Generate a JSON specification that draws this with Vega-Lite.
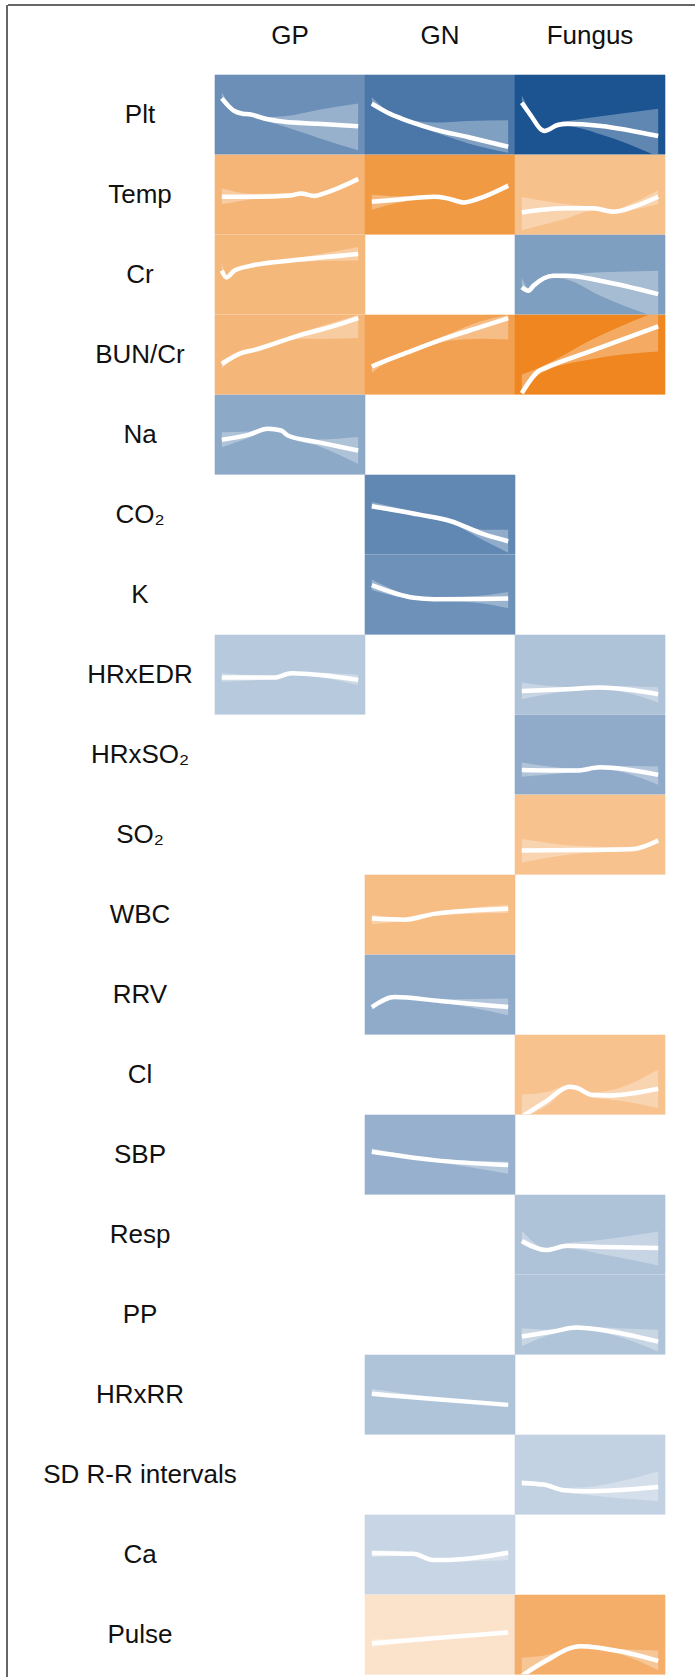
{
  "$schema": "https://vega.github.io/schema/vega-lite/v6.json",
  "background": "white",
  "padding": {"left": 6, "top": 4, "right": 0, "bottom": 0},
  "bounds": "flush",
  "spacing": 0,
  "hconcat": [
    {
      "width": 1,
      "height": 1680,
      "data": {"values": [{"edge": "left"}]},
      "mark": {"type": "rule", "color": "#333333", "strokeWidth": 1.5},
      "encoding": {"x": {"datum": 0, "type": "quantitative", "scale": {"domain": [0, 1]}, "axis": null}}
    },
    {
      "bounds": "flush",
      "spacing": 0,
      "vconcat": [
        {
          "width": 700,
          "height": 70,
          "data": {"values": [{"edge": "top"}]},
          "mark": {"type": "rule", "color": "#333333", "strokeWidth": 1.5},
          "encoding": {"y": {"datum": 0, "type": "quantitative", "scale": {"domain": [0, 1], "reverse": true}, "axis": null}}
        },
        {
          "bounds": "flush",
          "spacing": 0,
          "hconcat": [
            {
              "width": 57,
              "height": 10,
              "data": {"values": []},
              "mark": "point",
              "encoding": {}
            },
            {
              "bounds": "flush",
              "data": {
                "values": [
                  {"variable": "Plt", "group": "label"},
                  {"variable": "Temp", "group": "label"},
                  {"variable": "Cr", "group": "label"},
                  {"variable": "BUN/Cr", "group": "label"},
                  {"variable": "Na", "group": "label"},
                  {"variable": "CO₂", "group": "label"},
                  {"variable": "K", "group": "label"},
                  {"variable": "HRxEDR", "group": "label"},
                  {"variable": "HRxSO₂", "group": "label"},
                  {"variable": "SO₂", "group": "label"},
                  {"variable": "WBC", "group": "label"},
                  {"variable": "RRV", "group": "label"},
                  {"variable": "Cl", "group": "label"},
                  {"variable": "SBP", "group": "label"},
                  {"variable": "Resp", "group": "label"},
                  {"variable": "PP", "group": "label"},
                  {"variable": "HRxRR", "group": "label"},
                  {"variable": "SD R-R intervals", "group": "label"},
                  {"variable": "Ca", "group": "label"},
                  {"variable": "Pulse", "group": "label"},

                  {"variable": "Plt", "group": "GP", "effect": -0.64},
                  {"variable": "Plt", "group": "GN", "effect": -0.78},
                  {"variable": "Plt", "group": "Fungus", "effect": -0.98},
                  {"variable": "Temp", "group": "GP", "effect": 0.59},
                  {"variable": "Temp", "group": "GN", "effect": 0.81},
                  {"variable": "Temp", "group": "Fungus", "effect": 0.5},
                  {"variable": "Cr", "group": "GP", "effect": 0.57},
                  {"variable": "Cr", "group": "GN"},
                  {"variable": "Cr", "group": "Fungus", "effect": -0.55},
                  {"variable": "BUN/Cr", "group": "GP", "effect": 0.58},
                  {"variable": "BUN/Cr", "group": "GN", "effect": 0.75},
                  {"variable": "BUN/Cr", "group": "Fungus", "effect": 0.97},
                  {"variable": "Na", "group": "GP", "effect": -0.49},
                  {"variable": "Na", "group": "GN"},
                  {"variable": "Na", "group": "Fungus"},
                  {"variable": "CO₂", "group": "GP"},
                  {"variable": "CO₂", "group": "GN", "effect": -0.68},
                  {"variable": "CO₂", "group": "Fungus"},
                  {"variable": "K", "group": "GP"},
                  {"variable": "K", "group": "GN", "effect": -0.63},
                  {"variable": "K", "group": "Fungus"},
                  {"variable": "HRxEDR", "group": "GP", "effect": -0.31},
                  {"variable": "HRxEDR", "group": "GN"},
                  {"variable": "HRxEDR", "group": "Fungus", "effect": -0.35},
                  {"variable": "HRxSO₂", "group": "GP"},
                  {"variable": "HRxSO₂", "group": "GN"},
                  {"variable": "HRxSO₂", "group": "Fungus", "effect": -0.48},
                  {"variable": "SO₂", "group": "GP"},
                  {"variable": "SO₂", "group": "GN"},
                  {"variable": "SO₂", "group": "Fungus", "effect": 0.49},
                  {"variable": "WBC", "group": "GP"},
                  {"variable": "WBC", "group": "GN", "effect": 0.53},
                  {"variable": "WBC", "group": "Fungus"},
                  {"variable": "RRV", "group": "GP"},
                  {"variable": "RRV", "group": "GN", "effect": -0.48},
                  {"variable": "RRV", "group": "Fungus"},
                  {"variable": "Cl", "group": "GP"},
                  {"variable": "Cl", "group": "GN"},
                  {"variable": "Cl", "group": "Fungus", "effect": 0.49},
                  {"variable": "SBP", "group": "GP"},
                  {"variable": "SBP", "group": "GN", "effect": -0.45},
                  {"variable": "SBP", "group": "Fungus"},
                  {"variable": "Resp", "group": "GP"},
                  {"variable": "Resp", "group": "GN"},
                  {"variable": "Resp", "group": "Fungus", "effect": -0.35},
                  {"variable": "PP", "group": "GP"},
                  {"variable": "PP", "group": "GN"},
                  {"variable": "PP", "group": "Fungus", "effect": -0.34},
                  {"variable": "HRxRR", "group": "GP"},
                  {"variable": "HRxRR", "group": "GN", "effect": -0.34},
                  {"variable": "HRxRR", "group": "Fungus"},
                  {"variable": "SD R-R intervals", "group": "GP"},
                  {"variable": "SD R-R intervals", "group": "GN"},
                  {"variable": "SD R-R intervals", "group": "Fungus", "effect": -0.26},
                  {"variable": "Ca", "group": "GP"},
                  {"variable": "Ca", "group": "GN", "effect": -0.24},
                  {"variable": "Ca", "group": "Fungus"},
                  {"variable": "Pulse", "group": "GP"},
                  {"variable": "Pulse", "group": "GN", "effect": 0.23},
                  {"variable": "Pulse", "group": "Fungus", "effect": 0.65},

                  {"variable": "Plt", "group": "GP", "t": 0, "fit": 0.706, "lower": 0.66, "upper": 0.78},
                  {"variable": "Plt", "group": "GP", "t": 0.092, "fit": 0.546, "lower": 0.52, "upper": 0.57},
                  {"variable": "Plt", "group": "GP", "t": 0.153, "fit": 0.512, "lower": 0.49, "upper": 0.535},
                  {"variable": "Plt", "group": "GP", "t": 0.202, "fit": 0.504, "lower": 0.48, "upper": 0.525},
                  {"variable": "Plt", "group": "GP", "t": 0.337, "fit": 0.441, "lower": 0.41, "upper": 0.47},
                  {"variable": "Plt", "group": "GP", "t": 0.458, "fit": 0.411, "lower": 0.35, "upper": 0.48},
                  {"variable": "Plt", "group": "GP", "t": 0.703, "fit": 0.386, "lower": 0.21, "upper": 0.56},
                  {"variable": "Plt", "group": "GP", "t": 1, "fit": 0.353, "lower": 0.05, "upper": 0.64},

                  {"variable": "Plt", "group": "GN", "t": 0, "fit": 0.64, "lower": 0.6, "upper": 0.72},
                  {"variable": "Plt", "group": "GN", "t": 0.117, "fit": 0.525, "lower": 0.5, "upper": 0.55},
                  {"variable": "Plt", "group": "GN", "t": 0.214, "fit": 0.454, "lower": 0.43, "upper": 0.475},
                  {"variable": "Plt", "group": "GN", "t": 0.3, "fit": 0.4, "lower": 0.375, "upper": 0.425},
                  {"variable": "Plt", "group": "GN", "t": 0.458, "fit": 0.315, "lower": 0.28, "upper": 0.4},
                  {"variable": "Plt", "group": "GN", "t": 0.703, "fit": 0.218, "lower": 0.14, "upper": 0.42},
                  {"variable": "Plt", "group": "GN", "t": 1, "fit": 0.096, "lower": 0.02, "upper": 0.43},

                  {"variable": "Plt", "group": "Fungus", "t": 0, "fit": 0.65, "lower": 0.6, "upper": 0.74},
                  {"variable": "Plt", "group": "Fungus", "t": 0.07, "fit": 0.48, "lower": 0.45, "upper": 0.51},
                  {"variable": "Plt", "group": "Fungus", "t": 0.14, "fit": 0.315, "lower": 0.29, "upper": 0.34},
                  {"variable": "Plt", "group": "Fungus", "t": 0.165, "fit": 0.294, "lower": 0.27, "upper": 0.32},
                  {"variable": "Plt", "group": "Fungus", "t": 0.263, "fit": 0.37, "lower": 0.34, "upper": 0.4},
                  {"variable": "Plt", "group": "Fungus", "t": 0.337, "fit": 0.386, "lower": 0.35, "upper": 0.42},
                  {"variable": "Plt", "group": "Fungus", "t": 0.58, "fit": 0.357, "lower": 0.25, "upper": 0.48},
                  {"variable": "Plt", "group": "Fungus", "t": 1, "fit": 0.23, "lower": -0.03, "upper": 0.575},

                  {"variable": "Temp", "group": "GP", "t": 0, "fit": 0.474, "lower": 0.38, "upper": 0.58},
                  {"variable": "Temp", "group": "GP", "t": 0.214, "fit": 0.474, "lower": 0.44, "upper": 0.51},
                  {"variable": "Temp", "group": "GP", "t": 0.507, "fit": 0.49, "lower": 0.47, "upper": 0.52},
                  {"variable": "Temp", "group": "GP", "t": 0.58, "fit": 0.516, "lower": 0.49, "upper": 0.54},
                  {"variable": "Temp", "group": "GP", "t": 0.677, "fit": 0.483, "lower": 0.46, "upper": 0.51},
                  {"variable": "Temp", "group": "GP", "t": 0.75, "fit": 0.516, "lower": 0.49, "upper": 0.545},
                  {"variable": "Temp", "group": "GP", "t": 1, "fit": 0.697, "lower": 0.66, "upper": 0.73},

                  {"variable": "Temp", "group": "GN", "t": 0, "fit": 0.41, "lower": 0.31, "upper": 0.5},
                  {"variable": "Temp", "group": "GN", "t": 0.2, "fit": 0.44, "lower": 0.4, "upper": 0.48},
                  {"variable": "Temp", "group": "GN", "t": 0.458, "fit": 0.474, "lower": 0.455, "upper": 0.495},
                  {"variable": "Temp", "group": "GN", "t": 0.555, "fit": 0.453, "lower": 0.43, "upper": 0.475},
                  {"variable": "Temp", "group": "GN", "t": 0.677, "fit": 0.402, "lower": 0.38, "upper": 0.43},
                  {"variable": "Temp", "group": "GN", "t": 0.775, "fit": 0.445, "lower": 0.42, "upper": 0.47},
                  {"variable": "Temp", "group": "GN", "t": 1, "fit": 0.613, "lower": 0.58, "upper": 0.65},

                  {"variable": "Temp", "group": "Fungus", "t": 0, "fit": 0.276, "lower": 0.05, "upper": 0.47},
                  {"variable": "Temp", "group": "Fungus", "t": 0.33, "fit": 0.327, "lower": 0.2, "upper": 0.38},
                  {"variable": "Temp", "group": "Fungus", "t": 0.526, "fit": 0.327, "lower": 0.3, "upper": 0.35},
                  {"variable": "Temp", "group": "Fungus", "t": 0.672, "fit": 0.285, "lower": 0.26, "upper": 0.31},
                  {"variable": "Temp", "group": "Fungus", "t": 0.82, "fit": 0.348, "lower": 0.31, "upper": 0.4},
                  {"variable": "Temp", "group": "Fungus", "t": 1, "fit": 0.474, "lower": 0.38, "upper": 0.56},

                  {"variable": "Cr", "group": "GP", "t": 0, "fit": 0.55, "lower": 0.5, "upper": 0.66},
                  {"variable": "Cr", "group": "GP", "t": 0.033, "fit": 0.465, "lower": 0.44, "upper": 0.49},
                  {"variable": "Cr", "group": "GP", "t": 0.092, "fit": 0.55, "lower": 0.53, "upper": 0.57},
                  {"variable": "Cr", "group": "GP", "t": 0.216, "fit": 0.613, "lower": 0.595, "upper": 0.63},
                  {"variable": "Cr", "group": "GP", "t": 0.58, "fit": 0.69, "lower": 0.665, "upper": 0.72},
                  {"variable": "Cr", "group": "GP", "t": 1, "fit": 0.76, "lower": 0.68, "upper": 0.85},

                  {"variable": "Cr", "group": "Fungus", "t": 0, "fit": 0.34, "lower": 0.3, "upper": 0.46},
                  {"variable": "Cr", "group": "Fungus", "t": 0.049, "fit": 0.297, "lower": 0.27, "upper": 0.33},
                  {"variable": "Cr", "group": "Fungus", "t": 0.085, "fit": 0.36, "lower": 0.33, "upper": 0.39},
                  {"variable": "Cr", "group": "Fungus", "t": 0.232, "fit": 0.487, "lower": 0.46, "upper": 0.51},
                  {"variable": "Cr", "group": "Fungus", "t": 0.33, "fit": 0.487, "lower": 0.44, "upper": 0.51},
                  {"variable": "Cr", "group": "Fungus", "t": 0.574, "fit": 0.424, "lower": 0.235, "upper": 0.53},
                  {"variable": "Cr", "group": "Fungus", "t": 1, "fit": 0.255, "lower": -0.05, "upper": 0.55},

                  {"variable": "BUN/Cr", "group": "GP", "t": 0, "fit": 0.385, "lower": 0.33, "upper": 0.43},
                  {"variable": "BUN/Cr", "group": "GP", "t": 0.142, "fit": 0.52, "lower": 0.5, "upper": 0.54},
                  {"variable": "BUN/Cr", "group": "GP", "t": 0.24, "fit": 0.56, "lower": 0.54, "upper": 0.58},
                  {"variable": "BUN/Cr", "group": "GP", "t": 0.58, "fit": 0.75, "lower": 0.7, "upper": 0.78},
                  {"variable": "BUN/Cr", "group": "GP", "t": 0.8, "fit": 0.85, "lower": 0.7, "upper": 0.9},
                  {"variable": "BUN/Cr", "group": "GP", "t": 1, "fit": 0.96, "lower": 0.71, "upper": 1.0},

                  {"variable": "BUN/Cr", "group": "GN", "t": 0, "fit": 0.35, "lower": 0.27, "upper": 0.38},
                  {"variable": "BUN/Cr", "group": "GN", "t": 0.117, "fit": 0.435, "lower": 0.41, "upper": 0.46},
                  {"variable": "BUN/Cr", "group": "GN", "t": 0.214, "fit": 0.498, "lower": 0.475, "upper": 0.52},
                  {"variable": "BUN/Cr", "group": "GN", "t": 0.58, "fit": 0.73, "lower": 0.68, "upper": 0.77},
                  {"variable": "BUN/Cr", "group": "GN", "t": 0.8, "fit": 0.85, "lower": 0.7, "upper": 0.92},
                  {"variable": "BUN/Cr", "group": "GN", "t": 1, "fit": 0.96, "lower": 0.69, "upper": 1.0},

                  {"variable": "BUN/Cr", "group": "Fungus", "t": 0, "fit": 0.015, "lower": -0.02, "upper": 0.25},
                  {"variable": "BUN/Cr", "group": "Fungus", "t": 0.12, "fit": 0.29, "lower": 0.24, "upper": 0.33},
                  {"variable": "BUN/Cr", "group": "Fungus", "t": 0.17, "fit": 0.33, "lower": 0.29, "upper": 0.37},
                  {"variable": "BUN/Cr", "group": "Fungus", "t": 0.5, "fit": 0.54, "lower": 0.44, "upper": 0.68},
                  {"variable": "BUN/Cr", "group": "Fungus", "t": 1, "fit": 0.856, "lower": 0.54, "upper": 1.05},

                  {"variable": "Na", "group": "GP", "t": 0, "fit": 0.435, "lower": 0.34, "upper": 0.53},
                  {"variable": "Na", "group": "GP", "t": 0.2, "fit": 0.5, "lower": 0.46, "upper": 0.54},
                  {"variable": "Na", "group": "GP", "t": 0.337, "fit": 0.574, "lower": 0.55, "upper": 0.6},
                  {"variable": "Na", "group": "GP", "t": 0.435, "fit": 0.553, "lower": 0.53, "upper": 0.575},
                  {"variable": "Na", "group": "GP", "t": 0.484, "fit": 0.49, "lower": 0.47, "upper": 0.51},
                  {"variable": "Na", "group": "GP", "t": 0.703, "fit": 0.406, "lower": 0.36, "upper": 0.44},
                  {"variable": "Na", "group": "GP", "t": 1, "fit": 0.3, "lower": 0.13, "upper": 0.47},

                  {"variable": "CO₂", "group": "GN", "t": 0, "fit": 0.607, "lower": 0.57, "upper": 0.66},
                  {"variable": "CO₂", "group": "GN", "t": 0.35, "fit": 0.5, "lower": 0.48, "upper": 0.525},
                  {"variable": "CO₂", "group": "GN", "t": 0.58, "fit": 0.417, "lower": 0.39, "upper": 0.44},
                  {"variable": "CO₂", "group": "GN", "t": 0.825, "fit": 0.25, "lower": 0.17, "upper": 0.31},
                  {"variable": "CO₂", "group": "GN", "t": 1, "fit": 0.165, "lower": 0.02, "upper": 0.31},

                  {"variable": "K", "group": "GN", "t": 0, "fit": 0.62, "lower": 0.56, "upper": 0.69},
                  {"variable": "K", "group": "GN", "t": 0.31, "fit": 0.46, "lower": 0.44, "upper": 0.48},
                  {"variable": "K", "group": "GN", "t": 0.458, "fit": 0.443, "lower": 0.425, "upper": 0.46},
                  {"variable": "K", "group": "GN", "t": 0.75, "fit": 0.445, "lower": 0.4, "upper": 0.48},
                  {"variable": "K", "group": "GN", "t": 1, "fit": 0.45, "lower": 0.33, "upper": 0.535},

                  {"variable": "HRxEDR", "group": "GP", "t": 0, "fit": 0.463, "lower": 0.41, "upper": 0.52},
                  {"variable": "HRxEDR", "group": "GP", "t": 0.386, "fit": 0.463, "lower": 0.45, "upper": 0.48},
                  {"variable": "HRxEDR", "group": "GP", "t": 0.51, "fit": 0.518, "lower": 0.5, "upper": 0.535},
                  {"variable": "HRxEDR", "group": "GP", "t": 1, "fit": 0.434, "lower": 0.37, "upper": 0.5},

                  {"variable": "HRxEDR", "group": "Fungus", "t": 0, "fit": 0.295, "lower": 0.19, "upper": 0.4},
                  {"variable": "HRxEDR", "group": "Fungus", "t": 0.33, "fit": 0.316, "lower": 0.29, "upper": 0.345},
                  {"variable": "HRxEDR", "group": "Fungus", "t": 0.574, "fit": 0.337, "lower": 0.315, "upper": 0.36},
                  {"variable": "HRxEDR", "group": "Fungus", "t": 1, "fit": 0.253, "lower": 0.15, "upper": 0.34},

                  {"variable": "HRxSO₂", "group": "Fungus", "t": 0, "fit": 0.308, "lower": 0.22, "upper": 0.4},
                  {"variable": "HRxSO₂", "group": "Fungus", "t": 0.4, "fit": 0.3, "lower": 0.28, "upper": 0.325},
                  {"variable": "HRxSO₂", "group": "Fungus", "t": 0.574, "fit": 0.34, "lower": 0.315, "upper": 0.36},
                  {"variable": "HRxSO₂", "group": "Fungus", "t": 1, "fit": 0.245, "lower": 0.12, "upper": 0.35},

                  {"variable": "SO₂", "group": "Fungus", "t": 0, "fit": 0.3, "lower": 0.15, "upper": 0.445},
                  {"variable": "SO₂", "group": "Fungus", "t": 0.4, "fit": 0.305, "lower": 0.26, "upper": 0.36},
                  {"variable": "SO₂", "group": "Fungus", "t": 0.82, "fit": 0.32, "lower": 0.3, "upper": 0.34},
                  {"variable": "SO₂", "group": "Fungus", "t": 1, "fit": 0.425, "lower": 0.39, "upper": 0.46},

                  {"variable": "WBC", "group": "GN", "t": 0, "fit": 0.45, "lower": 0.38, "upper": 0.5},
                  {"variable": "WBC", "group": "GN", "t": 0.24, "fit": 0.437, "lower": 0.42, "upper": 0.46},
                  {"variable": "WBC", "group": "GN", "t": 0.458, "fit": 0.51, "lower": 0.49, "upper": 0.53},
                  {"variable": "WBC", "group": "GN", "t": 1, "fit": 0.575, "lower": 0.52, "upper": 0.625},

                  {"variable": "RRV", "group": "GN", "t": 0, "fit": 0.344, "lower": 0.31, "upper": 0.37},
                  {"variable": "RRV", "group": "GN", "t": 0.166, "fit": 0.47, "lower": 0.45, "upper": 0.49},
                  {"variable": "RRV", "group": "GN", "t": 0.5, "fit": 0.42, "lower": 0.4, "upper": 0.44},
                  {"variable": "RRV", "group": "GN", "t": 1, "fit": 0.344, "lower": 0.24, "upper": 0.45},

                  {"variable": "Cl", "group": "Fungus", "t": 0, "fit": -0.03, "lower": -0.05, "upper": 0.25},
                  {"variable": "Cl", "group": "Fungus", "t": 0.18, "fit": 0.167, "lower": 0.1, "upper": 0.28},
                  {"variable": "Cl", "group": "Fungus", "t": 0.35, "fit": 0.348, "lower": 0.32, "upper": 0.37},
                  {"variable": "Cl", "group": "Fungus", "t": 0.4, "fit": 0.335, "lower": 0.31, "upper": 0.36},
                  {"variable": "Cl", "group": "Fungus", "t": 0.52, "fit": 0.242, "lower": 0.21, "upper": 0.28},
                  {"variable": "Cl", "group": "Fungus", "t": 0.64, "fit": 0.238, "lower": 0.19, "upper": 0.3},
                  {"variable": "Cl", "group": "Fungus", "t": 1, "fit": 0.323, "lower": 0.08, "upper": 0.566},

                  {"variable": "SBP", "group": "GN", "t": 0, "fit": 0.536, "lower": 0.51, "upper": 0.58},
                  {"variable": "SBP", "group": "GN", "t": 0.458, "fit": 0.431, "lower": 0.41, "upper": 0.45},
                  {"variable": "SBP", "group": "GN", "t": 1, "fit": 0.368, "lower": 0.26, "upper": 0.41},

                  {"variable": "Resp", "group": "Fungus", "t": 0, "fit": 0.42, "lower": 0.38, "upper": 0.55},
                  {"variable": "Resp", "group": "Fungus", "t": 0.18, "fit": 0.305, "lower": 0.28, "upper": 0.33},
                  {"variable": "Resp", "group": "Fungus", "t": 0.33, "fit": 0.36, "lower": 0.33, "upper": 0.39},
                  {"variable": "Resp", "group": "Fungus", "t": 0.6, "fit": 0.345, "lower": 0.25, "upper": 0.44},
                  {"variable": "Resp", "group": "Fungus", "t": 1, "fit": 0.33, "lower": 0.11, "upper": 0.54},

                  {"variable": "PP", "group": "Fungus", "t": 0, "fit": 0.224, "lower": 0.1, "upper": 0.33},
                  {"variable": "PP", "group": "Fungus", "t": 0.23, "fit": 0.287, "lower": 0.26, "upper": 0.31},
                  {"variable": "PP", "group": "Fungus", "t": 0.4, "fit": 0.338, "lower": 0.315, "upper": 0.36},
                  {"variable": "PP", "group": "Fungus", "t": 0.574, "fit": 0.31, "lower": 0.28, "upper": 0.34},
                  {"variable": "PP", "group": "Fungus", "t": 1, "fit": 0.16, "lower": 0.035, "upper": 0.31},

                  {"variable": "HRxRR", "group": "GN", "t": 0, "fit": 0.51, "lower": 0.49, "upper": 0.57},
                  {"variable": "HRxRR", "group": "GN", "t": 0.5, "fit": 0.44, "lower": 0.42, "upper": 0.46},
                  {"variable": "HRxRR", "group": "GN", "t": 1, "fit": 0.371, "lower": 0.35, "upper": 0.39},

                  {"variable": "SD R-R intervals", "group": "Fungus", "t": 0, "fit": 0.396, "lower": 0.36, "upper": 0.43},
                  {"variable": "SD R-R intervals", "group": "Fungus", "t": 0.16, "fit": 0.375, "lower": 0.35, "upper": 0.4},
                  {"variable": "SD R-R intervals", "group": "Fungus", "t": 0.31, "fit": 0.304, "lower": 0.28, "upper": 0.33},
                  {"variable": "SD R-R intervals", "group": "Fungus", "t": 0.45, "fit": 0.29, "lower": 0.25, "upper": 0.34},
                  {"variable": "SD R-R intervals", "group": "Fungus", "t": 1, "fit": 0.345, "lower": 0.165, "upper": 0.54},

                  {"variable": "Ca", "group": "GN", "t": 0, "fit": 0.517, "lower": 0.47, "upper": 0.56},
                  {"variable": "Ca", "group": "GN", "t": 0.302, "fit": 0.51, "lower": 0.49, "upper": 0.53},
                  {"variable": "Ca", "group": "GN", "t": 0.452, "fit": 0.433, "lower": 0.41, "upper": 0.45},
                  {"variable": "Ca", "group": "GN", "t": 0.533, "fit": 0.433, "lower": 0.41, "upper": 0.45},
                  {"variable": "Ca", "group": "GN", "t": 1, "fit": 0.525, "lower": 0.43, "upper": 0.56},

                  {"variable": "Pulse", "group": "GN", "t": 0, "fit": 0.39, "lower": 0.34, "upper": 0.44},
                  {"variable": "Pulse", "group": "GN", "t": 0.5, "fit": 0.46, "lower": 0.44, "upper": 0.48},
                  {"variable": "Pulse", "group": "GN", "t": 1, "fit": 0.527, "lower": 0.5, "upper": 0.56},

                  {"variable": "Pulse", "group": "Fungus", "t": 0, "fit": -0.02, "lower": -0.05, "upper": 0.21},
                  {"variable": "Pulse", "group": "Fungus", "t": 0.175, "fit": 0.17, "lower": 0.13, "upper": 0.24},
                  {"variable": "Pulse", "group": "Fungus", "t": 0.43, "fit": 0.355, "lower": 0.33, "upper": 0.38},
                  {"variable": "Pulse", "group": "Fungus", "t": 0.73, "fit": 0.287, "lower": 0.25, "upper": 0.32},
                  {"variable": "Pulse", "group": "Fungus", "t": 1, "fit": 0.17, "lower": 0.05, "upper": 0.3}
                ]
              },
              "facet": {
                "row": {
                  "field": "variable",
                  "type": "nominal",
                  "sort": ["Plt", "Temp", "Cr", "BUN/Cr", "Na", "CO₂", "K", "HRxEDR", "HRxSO₂", "SO₂", "WBC", "RRV", "Cl", "SBP", "Resp", "PP", "HRxRR", "SD R-R intervals", "Ca", "Pulse"],
                  "title": null,
                  "header": {"labels": false}
                },
                "column": {
                  "field": "group",
                  "type": "nominal",
                  "sort": ["label", "GP", "GN", "Fungus"],
                  "title": null,
                  "header": {
                    "labelOrient": "top",
                    "labelExpr": "datum.value === 'label' ? '' : datum.value",
                    "labelBaseline": "alphabetic",
                    "labelPadding": 5,
                    "labelFont": "Liberation Sans",
                    "labelFontSize": 26,
                    "labelColor": "#111111"
                  }
                }
              },
              "spacing": {"row": 0, "column": 0},
              "spec": {
                "width": 150,
                "height": 79.3,
                "layer": [
                  {
                    "transform": [{"filter": "isValid(datum.effect)"}],
                    "mark": {"type": "rect", "strokeWidth": 0.6},
                    "encoding": {
                      "x": {"datum": -0.05, "type": "quantitative", "scale": {"domain": [-0.05, 1.05], "nice": false, "zero": false, "padding": 0}, "axis": null},
                      "x2": {"datum": 1.05},
                      "y": {"datum": 0, "type": "quantitative", "scale": {"domain": [0, 1], "nice": false, "zero": false, "padding": 0}, "axis": null},
                      "y2": {"datum": 1},
                      "color": {
                        "field": "effect",
                        "type": "quantitative",
                        "scale": {"type": "linear", "domain": [-1, 0, 1], "range": ["#17508f", "#ffffff", "#ee8218"], "interpolate": "rgb"},
                        "legend": null
                      },
                      "stroke": {
                        "field": "effect",
                        "type": "quantitative",
                        "scale": {"type": "linear", "domain": [-1, 0, 1], "range": ["#17508f", "#ffffff", "#ee8218"], "interpolate": "rgb"},
                        "legend": null
                      }
                    }
                  },
                  {
                    "transform": [{"filter": "isValid(datum.t)"}],
                    "mark": {"type": "area", "color": "white", "opacity": 0.3, "interpolate": "monotone", "clip": true},
                    "encoding": {
                      "x": {"field": "t", "type": "quantitative", "scale": {"domain": [-0.05, 1.05], "nice": false, "zero": false, "padding": 0}, "axis": null},
                      "y": {"field": "lower", "type": "quantitative", "scale": {"domain": [0, 1], "nice": false, "zero": false, "padding": 0}, "axis": null},
                      "y2": {"field": "upper"}
                    }
                  },
                  {
                    "transform": [{"filter": "isValid(datum.t)"}],
                    "mark": {"type": "line", "color": "white", "strokeWidth": 4.5, "interpolate": "monotone", "clip": true},
                    "encoding": {
                      "x": {"field": "t", "type": "quantitative", "scale": {"domain": [-0.05, 1.05], "nice": false, "zero": false, "padding": 0}, "axis": null},
                      "y": {"field": "fit", "type": "quantitative", "scale": {"domain": [0, 1], "nice": false, "zero": false, "padding": 0}, "axis": null}
                    }
                  },
                  {
                    "transform": [{"filter": "datum.group === 'label'"}],
                    "mark": {"type": "text", "font": "Liberation Sans", "fontSize": 26, "color": "#111111", "align": "center", "baseline": "middle"},
                    "encoding": {
                      "x": {"datum": 0.5, "type": "quantitative", "scale": {"domain": [-0.05, 1.05], "nice": false, "zero": false, "padding": 0}, "axis": null},
                      "y": {"datum": 0.5, "type": "quantitative", "scale": {"domain": [0, 1], "nice": false, "zero": false, "padding": 0}, "axis": null},
                      "text": {"field": "variable"}
                    }
                  }
                ]
              }
            }
          ]
        }
      ]
    }
  ],
  "config": {"view": {"stroke": null}}
}
